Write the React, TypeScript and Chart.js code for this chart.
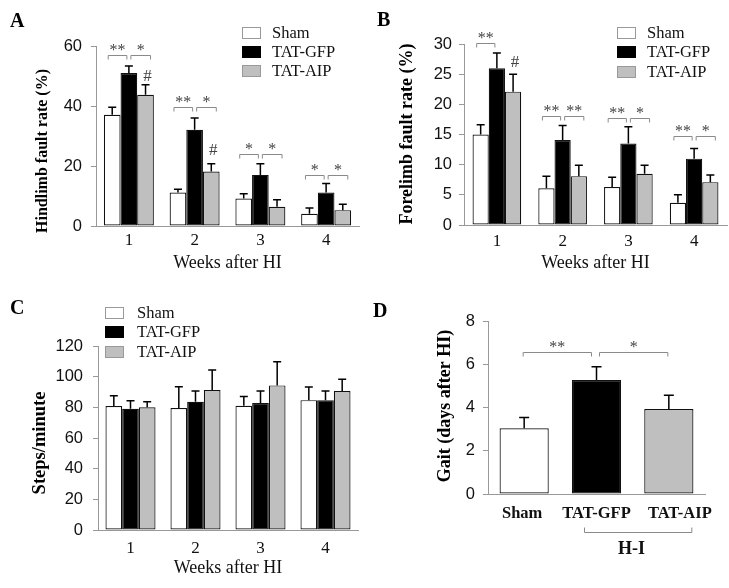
import React, { useEffect, useRef } from 'react';
import { Chart, registerables } from 'chart.js';

Chart.register(...registerables);

// ---------- data ----------
const weeks = ['1', '2', '3', '4'];
const groupNames = ['Sham', 'TAT-GFP', 'TAT-AIP'];

const hindSham = [37.2, 11.2, 9.2, 4.1];
const hindShamErr = [2.5, 1.1, 1.6, 1.9];
const hindGfp = [51.2, 32.2, 17.1, 11.2];
const hindGfpErr = [2.3, 3.9, 3.7, 3.0];
const hindAip = [43.9, 18.2, 6.4, 5.3];
const hindAipErr = [3.4, 2.6, 2.4, 2.0];

const foreSham = [15.0, 6.1, 6.3, 3.7];
const foreShamErr = [1.6, 2.0, 1.6, 1.3];
const foreGfp = [26.0, 14.1, 13.5, 11.0];
const foreGfpErr = [2.5, 2.4, 2.8, 1.7];
const foreAip = [22.1, 8.1, 8.5, 7.1];
const foreAipErr = [2.9, 1.8, 1.4, 1.2];

const stepsSham = [80.9, 79.5, 81.0, 84.7];
const stepsShamErr = [6.7, 13.9, 6.1, 8.5];
const stepsGfp = [79.0, 83.6, 82.8, 84.7];
const stepsGfpErr = [5.3, 7.0, 7.8, 5.9];
const stepsAip = [80.0, 91.3, 94.3, 90.6];
const stepsAipErr = [3.7, 13.1, 15.5, 7.7];

const gaitGroups = ['Sham', 'TAT-GFP', 'TAT-AIP'];
const gaitValues = [3.05, 5.29, 3.95];
const gaitErr = [0.5, 0.62, 0.64];

// significance brackets: [week, fromBar, toBar, y value, label]
type Sig = [number, number, number, number, string];
const hindSig: Sig[] = [
  [0, 0, 1, 57.3, '**'], [0, 1, 2, 57.3, '*'],
  [1, 0, 1, 39.7, '**'], [1, 1, 2, 39.7, '*'],
  [2, 0, 1, 24.0, '*'], [2, 1, 2, 24.0, '*'],
  [3, 0, 1, 17.0, '*'], [3, 1, 2, 17.0, '*'],
];
const foreSig: Sig[] = [
  [0, 0, 1, 30.2, '**'],
  [1, 0, 1, 18.1, '**'], [1, 1, 2, 18.1, '**'],
  [2, 0, 1, 17.8, '**'], [2, 1, 2, 17.8, '*'],
  [3, 0, 1, 14.7, '**'], [3, 1, 2, 14.7, '*'],
];
const gaitSig: Sig[] = [
  [0, 0, 1, 6.6, '**'], [0, 1, 2, 6.6, '*'],
];
// '#' marks: [week, bar, y value]
const hindHash = [[0, 2, 49.9], [1, 2, 25.4]];
const foreHash = [[0, 2, 26.9]];

const fills = ['#ffffff', '#000000', '#bfbfbf'];
const legendBorders = ['#999999', '#000000', '#999999'];
const SERIF = "'Liberation Serif', 'Times New Roman', serif";
const SANS = "'Liberation Sans', Arial, sans-serif";

interface Decor {
  errors: number[][];
  cap: number;
  sig: Sig[];
  sigLeft: number[];
  sigRight: number[];
  hash?: number[][];
  legend?: { boxX: number; textX: number; rows: number[] };
  letter: { text: string; x: number; y: number };
  yTitle: { text: string; x: number; y: number; size: number };
  xLabels?: { y: number; offsets: number[] };
  hi?: { from: number; to: number; y: number; textX: number; textY: number; text: string };
}

function makeDecor(d: Decor) {
  return {
    id: 'decor',
    afterDatasetsDraw(chart: any) {
      const ctx = chart.ctx as CanvasRenderingContext2D;
      const ys = chart.scales.y;
      const nds = chart.data.datasets.length;
      const bar = (g: number, b: number) =>
        nds === 1 ? chart.getDatasetMeta(0).data[b] : chart.getDatasetMeta(b).data[g];
      ctx.save();
      // error bars
      ctx.strokeStyle = '#000';
      ctx.lineWidth = 1.5;
      chart.data.datasets.forEach((ds: any, di: number) => {
        const meta = chart.getDatasetMeta(di);
        meta.data.forEach((el: any, i: number) => {
          const v = ds.data[i] as number;
          const top = ys.getPixelForValue(v + d.errors[di][i]);
          ctx.beginPath();
          ctx.moveTo(el.x, el.y);
          ctx.lineTo(el.x, top);
          ctx.moveTo(el.x - d.cap / 2, top);
          ctx.lineTo(el.x + d.cap / 2, top);
          ctx.stroke();
        });
      });
      // brackets
      ctx.strokeStyle = '#8a8a8a';
      ctx.lineWidth = 1;
      ctx.fillStyle = '#444';
      ctx.font = `16px ${SERIF}`;
      ctx.textAlign = 'center';
      ctx.textBaseline = 'alphabetic';
      d.sig.forEach(([g, a, b, y, label]) => {
        const x1 = bar(g, a).x + d.sigLeft[a];
        const x2 = bar(g, b).x + d.sigRight[b];
        const py = Math.round(ys.getPixelForValue(y)) + 0.5;
        ctx.beginPath();
        ctx.moveTo(x1, py + 4);
        ctx.lineTo(x1, py);
        ctx.lineTo(x2, py);
        ctx.lineTo(x2, py + 4);
        ctx.stroke();
        ctx.fillText(label, (x1 + x2) / 2, py - 1);
      });
      // hash marks
      ctx.font = `17px ${SERIF}`;
      ctx.textBaseline = 'middle';
      (d.hash || []).forEach(([g, b, y]) => {
        ctx.fillText('#', bar(g, b).x + 2, ys.getPixelForValue(y));
      });
      // legend
      if (d.legend) {
        const L = d.legend;
        ctx.textAlign = 'left';
        ctx.textBaseline = 'middle';
        ctx.font = `16.5px ${SERIF}`;
        groupNames.forEach((name, i) => {
          const cy = L.rows[i];
          ctx.fillStyle = fills[i];
          ctx.fillRect(L.boxX, cy - 6, 19, 12);
          ctx.strokeStyle = legendBorders[i];
          ctx.lineWidth = 1;
          ctx.strokeRect(L.boxX + 0.5, cy - 5.5, 18, 11);
          ctx.fillStyle = '#111';
          ctx.fillText(name, L.textX, cy + 1);
        });
      }
      // panel letter
      ctx.fillStyle = '#000';
      ctx.textAlign = 'left';
      ctx.textBaseline = 'middle';
      ctx.font = `bold 20px ${SERIF}`;
      ctx.fillText(d.letter.text, d.letter.x, d.letter.y);
      // y title
      ctx.save();
      ctx.translate(d.yTitle.x, d.yTitle.y);
      ctx.rotate(-Math.PI / 2);
      ctx.textAlign = 'center';
      ctx.textBaseline = 'middle';
      ctx.font = `bold ${d.yTitle.size}px ${SERIF}`;
      ctx.fillText(d.yTitle.text, 0, 0);
      ctx.restore();
      // custom x labels
      if (d.xLabels) {
        const X = d.xLabels;
        ctx.textAlign = 'center';
        ctx.textBaseline = 'middle';
        ctx.font = `bold 16.5px ${SERIF}`;
        ctx.fillStyle = '#111';
        chart.data.labels.forEach((lab: string, i: number) => {
          ctx.fillText(lab, bar(0, i).x + X.offsets[i], X.y);
        });
      }
      if (d.hi) {
        const H = d.hi;
        const x1 = bar(0, 1).x + H.from;
        const x2 = bar(0, 2).x + H.to;
        const py = H.y + 0.5;
        ctx.strokeStyle = '#8a8a8a';
        ctx.lineWidth = 1;
        ctx.beginPath();
        ctx.moveTo(x1, py - 5);
        ctx.lineTo(x1, py);
        ctx.lineTo(x2, py);
        ctx.lineTo(x2, py - 5);
        ctx.stroke();
        ctx.fillStyle = '#111';
        ctx.font = `bold 18px ${SERIF}`;
        ctx.fillText(H.text, bar(0, 1).x + H.textX, H.textY);
      }
      ctx.restore();
    },
  };
}

interface GroupedSpec {
  series: number[][];
  yMax: number;
  yStep: number;
  yWidth: number;
  xHeight: number;
  padTop: number;
  padRight: number;
  yTickPad: number;
  xTickPad: number;
  titlePad: number;
  catPct: number;
  decor: Decor;
}

function yScale(max: number, step: number, width: number, pad: number) {
  return {
    min: 0,
    max,
    ticks: { stepSize: step, color: '#111', padding: pad, font: { family: SANS, size: 16.5 } },
    grid: { drawOnChartArea: false, drawTicks: true, tickLength: 5, color: '#999' },
    border: { display: true, color: '#999', width: 1 },
    afterFit: (s: any) => {
      s.width = width;
    },
  };
}

function groupedConfig(p: GroupedSpec): any {
  return {
    type: 'bar',
    data: {
      labels: weeks,
      datasets: groupNames.map((name, i) => ({
        label: name,
        data: p.series[i],
        backgroundColor: fills[i],
        borderColor: '#111',
        borderWidth: 1.2,
        borderSkipped: false,
        barPercentage: 1,
        categoryPercentage: p.catPct,
      })),
    },
    options: {
      responsive: false,
      animation: false,
      events: [],
      layout: { padding: { left: 0, top: p.padTop, right: p.padRight, bottom: 0 } },
      plugins: { legend: { display: false }, tooltip: { enabled: false } },
      scales: {
        x: {
          type: 'category',
          grid: { display: false },
          border: { display: true, color: '#999', width: 1 },
          ticks: { color: '#111', padding: p.xTickPad, autoSkip: false, maxRotation: 0, font: { family: SERIF, size: 17 } },
          title: {
            display: true,
            text: 'Weeks after HI',
            color: '#111',
            font: { family: SERIF, size: 18 },
            padding: { top: 0, bottom: p.titlePad },
          },
          afterFit: (s: any) => {
            s.height = p.xHeight;
          },
        },
        y: yScale(p.yMax, p.yStep, p.yWidth, p.yTickPad),
      },
    },
    plugins: [makeDecor(p.decor)],
  };
}

const offL = [-4, 2];
const offR = [0, -2, 5];

function configA() {
  return groupedConfig({
    series: [hindSham, hindGfp, hindAip],
    yMax: 60, yStep: 20, yWidth: 96, xHeight: 62, padTop: 46.7, padRight: 5,
    yTickPad: 9, xTickPad: -3.5, titlePad: 14.2, catPct: 0.76,
    decor: {
      errors: [hindShamErr, hindGfpErr, hindAipErr], cap: 8,
      sig: hindSig, sigLeft: offL, sigRight: offR, hash: hindHash,
      legend: { boxX: 242, textX: 272, rows: [33, 52, 71] },
      letter: { text: 'A', x: 10, y: 22 },
      yTitle: { text: 'Hindlimb fault rate (%)', x: 43, y: 151, size: 16 },
    },
  });
}

function configB() {
  return groupedConfig({
    series: [foreSham, foreGfp, foreAip],
    yMax: 30, yStep: 5, yWidth: 99, xHeight: 63, padTop: 44, padRight: 2,
    yTickPad: 7, xTickPad: -2, titlePad: 14.2, catPct: 0.74,
    decor: {
      errors: [foreShamErr, foreGfpErr, foreAipErr], cap: 8,
      sig: foreSig, sigLeft: offL, sigRight: offR, hash: foreHash,
      legend: { boxX: 252, textX: 282, rows: [33, 52, 72] },
      letter: { text: 'B', x: 12, y: 21 },
      yTitle: { text: 'Forelimb fault rate (%)', x: 42, y: 134, size: 18 },
    },
  });
}

function configC() {
  return groupedConfig({
    series: [stepsSham, stepsGfp, stepsAip],
    yMax: 120, yStep: 20, yWidth: 98, xHeight: 58, padTop: 58, padRight: 6,
    yTickPad: 10, xTickPad: 0, titlePad: 9.2, catPct: 0.77,
    decor: {
      errors: [stepsShamErr, stepsGfpErr, stepsAipErr], cap: 8,
      sig: [], sigLeft: offL, sigRight: offR,
      legend: { boxX: 105, textX: 137, rows: [25, 44, 64] },
      letter: { text: 'C', x: 10, y: 20.5 },
      yTitle: { text: 'Steps/minute', x: 40, y: 155, size: 18.5 },
    },
  });
}

function configD(): any {
  return {
    type: 'bar',
    data: {
      labels: gaitGroups,
      datasets: [
        {
          label: 'Gait',
          data: gaitValues,
          backgroundColor: fills,
          borderColor: '#111',
          borderWidth: 1.2,
          borderSkipped: false,
          barPercentage: 1,
          categoryPercentage: 0.68,
        },
      ],
    },
    options: {
      responsive: false,
      animation: false,
      events: [],
      layout: { padding: { left: 0, top: 33.7, right: 24, bottom: 0 } },
      plugins: { legend: { display: false }, tooltip: { enabled: false } },
      scales: {
        x: {
          type: 'category',
          grid: { display: false },
          border: { display: true, color: '#999', width: 1 },
          ticks: { display: false },
          afterFit: (s: any) => {
            s.height = 94;
          },
        },
        y: yScale(8, 2, 123, 8),
      },
    },
    plugins: [
      makeDecor({
        errors: [gaitErr], cap: 10,
        sig: gaitSig, sigLeft: [-1, 3], sigRight: [0, -5, -1],
        letter: { text: 'D', x: 8, y: 23.5 },
        yTitle: { text: 'Gait (days after HI)', x: 80, y: 118, size: 18 },
        xLabels: { y: 226, offsets: [-2, 0, 11] },
        hi: { from: -12, to: 23, y: 244, textX: 35, textY: 261, text: 'H-I' },
      }),
    ],
  };
}

function Panel(props: { left: number; top: number; width: number; height: number; build: () => any }) {
  const ref = useRef<HTMLCanvasElement>(null);
  useEffect(() => {
    const chart = new Chart(ref.current as HTMLCanvasElement, props.build());
    return () => chart.destroy();
  }, []);
  return (
    <canvas
      ref={ref}
      width={props.width}
      height={props.height}
      style={{ position: 'absolute', left: props.left, top: props.top, width: props.width, height: props.height }}
    />
  );
}

export default function App() {
  return (
    <div style={{ position: 'absolute', left: 0, top: 0, width: 729, height: 588, background: '#fff', overflow: 'hidden' }}>
      <Panel left={0} top={0} width={364} height={288} build={configA} />
      <Panel left={365} top={0} width={364} height={288} build={configB} />
      <Panel left={0} top={288} width={364} height={300} build={configC} />
      <Panel left={365} top={288} width={364} height={300} build={configD} />
    </div>
  );
}
